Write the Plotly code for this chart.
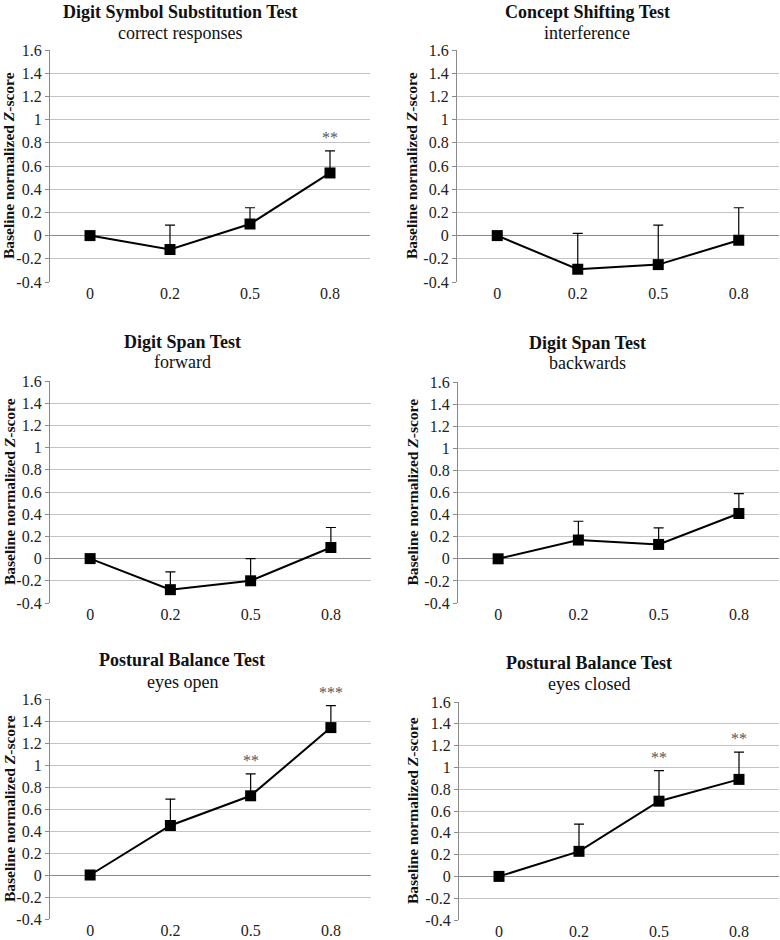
import plotly.graph_objects as go

doses = ["0", "0.2", "0.5", "0.8"]

titles = ["Digit Symbol Substitution Test", "Concept Shifting Test",
          "Digit Span Test", "Digit Span Test",
          "Postural Balance Test", "Postural Balance Test"]
subtitles = ["correct responses", "interference", "forward", "backwards",
             "eyes open", "eyes closed"]
y_title = "<b>Baseline normalized <i>Z</i>-score</b>"

dsst_mean = [0, -0.12, 0.10, 0.54]
dsst_err = [0, 0.21, 0.14, 0.19]
dsst_sig = ["", "", "", "**"]

cst_mean = [0, -0.29, -0.25, -0.04]
cst_err = [0, 0.31, 0.34, 0.28]
cst_sig = ["", "", "", ""]

dsf_mean = [0, -0.28, -0.20, 0.10]
dsf_err = [0, 0.16, 0.20, 0.18]
dsf_sig = ["", "", "", ""]

dsb_mean = [0, 0.17, 0.13, 0.41]
dsb_err = [0, 0.17, 0.15, 0.18]
dsb_sig = ["", "", "", ""]

pbo_mean = [0, 0.45, 0.72, 1.34]
pbo_err = [0, 0.24, 0.20, 0.20]
pbo_sig = ["", "", "**", "***"]

pbc_mean = [0, 0.23, 0.69, 0.89]
pbc_err = [0, 0.25, 0.28, 0.25]
pbc_sig = ["", "", "**", "**"]

y_ticks = [-0.4, -0.2, 0, 0.2, 0.4, 0.6, 0.8, 1, 1.2, 1.4, 1.6]
y_ticktext = ["-0.4", "-0.2", "0", "0.2", "0.4", "0.6", "0.8", "1", "1.2", "1.4", "1.6"]

series = [
    (dsst_mean, dsst_err, dsst_sig),
    (cst_mean, cst_err, cst_sig),
    (dsf_mean, dsf_err, dsf_sig),
    (dsb_mean, dsb_err, dsb_sig),
    (pbo_mean, pbo_err, pbo_sig),
    (pbc_mean, pbc_err, pbc_sig),
]

W, H = 780, 940
# pixel layout: (x0, x1, ytop, ybottom, title_x, title_y, sub_y, ytitle_x)
layout_px = [
    (50, 370, 50, 282, 180, 12, 33, 9),
    (457, 779, 50, 282, 587, 12, 33, 412),
    (50, 371, 381, 603, 182, 342, 362, 9),
    (458, 779, 382, 603, 587, 343, 363, 412),
    (50, 371, 699, 919, 182, 660, 682, 9),
    (459, 779, 702, 920, 589, 663, 684, 412),
]

FONT = "Liberation Serif, Times New Roman, serif"
fig = go.Figure()
annotations = []
for i, ((m, e, sig), (x0, x1, yt, yb, tx, ty, sy, yx)) in enumerate(zip(series, layout_px)):
    n = "" if i == 0 else str(i + 1)
    fig.add_trace(go.Scatter(
        x=doses, y=m, mode="lines+markers",
        line=dict(color="black", width=2),
        marker=dict(symbol="square", size=11, color="black"),
        error_y=dict(type="data", symmetric=False, array=e,
                     arrayminus=[0] * len(e), color="black", thickness=1.2, width=5),
        xaxis="x" + n, yaxis="y" + n, showlegend=False, hoverinfo="skip",
    ))
    fig.update_layout({
        "xaxis" + n: dict(domain=[x0 / W, x1 / W], anchor="y" + n,
                          type="category", range=[-0.5, 3.5], automargin=False,
                          showgrid=False, zeroline=False, showline=False,
                          ticks="", ticklabelstandoff=0,
                          tickfont=dict(family=FONT, size=16, color="#222")),
        "yaxis" + n: dict(domain=[1 - yb / H, 1 - yt / H], anchor="x" + n,
                          range=[-0.4, 1.6], tickvals=y_ticks, ticktext=y_ticktext,
                          automargin=False,
                          showgrid=True, gridcolor="#c4c4c4", gridwidth=1.2,
                          zeroline=True, zerolinecolor="#8a8a8a", zerolinewidth=1.2,
                          showline=True, linecolor="#8a8a8a", linewidth=1.2,
                          ticks="outside", ticklen=4, tickcolor="#8a8a8a",
                          tickfont=dict(family=FONT, size=16, color="#222")),
    })
    annotations.append(dict(x=tx / W, y=1 - ty / H, xref="paper", yref="paper",
                            text="<b>" + titles[i] + "</b>", showarrow=False,
                            font=dict(family=FONT, size=18, color="#111"),
                            xanchor="center", yanchor="middle"))
    annotations.append(dict(x=tx / W, y=1 - sy / H, xref="paper", yref="paper",
                            text=subtitles[i], showarrow=False,
                            font=dict(family=FONT, size=18, color="#111"),
                            xanchor="center", yanchor="middle"))
    annotations.append(dict(x=yx / W, y=1 - (yt + yb) / 2 / H, xref="paper", yref="paper",
                            text=y_title, showarrow=False, textangle=-90,
                            font=dict(family=FONT, size=15.5, color="#111"),
                            xanchor="center", yanchor="middle"))
    for k, (v, er, s) in enumerate(zip(m, e, sig)):
        if s:
            annotations.append(dict(x=k, y=v + er, xref="x" + n, yref="y" + n,
                                    text=s, showarrow=False, yshift=3,
                                    font=dict(family=FONT, size=16, color="#555"),
                                    xanchor="center", yanchor="bottom"))

fig.update_layout(template="none", width=W, height=H,
                  margin=dict(l=0, r=0, t=0, b=0, autoexpand=False),
                  paper_bgcolor="white", plot_bgcolor="white",
                  annotations=annotations)
fig.write_html("out.html", config={"displayModeBar": False},
               post_script="document.body.style.margin='0';")
